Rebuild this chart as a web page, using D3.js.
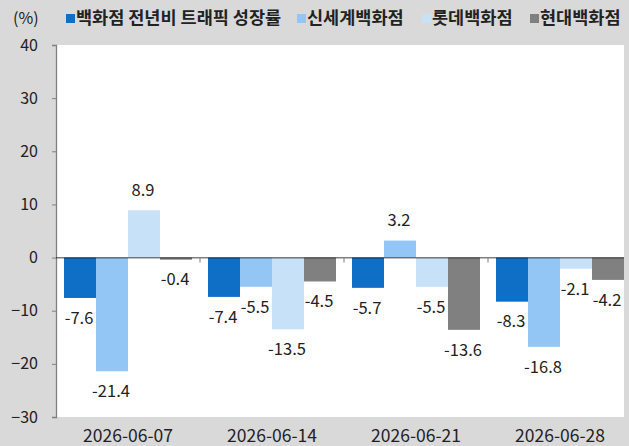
<!DOCTYPE html>
<html>
<head>
<meta charset="utf-8">
<script src="https://cdn.jsdelivr.net/npm/d3@7"></script>
<style>
  body { margin: 0; background: #d9d9d9; }
  text { font-family: "Noto Sans CJK KR", "Noto Sans", sans-serif; fill: #222; }
</style>
</head>
<body>
<div id="chart"></div>
<script>
// data
const dates = ["2026-06-07", "2026-06-14", "2026-06-21", "2026-06-28"];
const seriesNames = ["백화점 전년비 트래픽 성장률", "신세계백화점", "롯데백화점", "현대백화점"];
const totalGrowth = [-7.6, -7.4, -5.7, -8.3];
const shinsegae = [-21.4, -5.5, 3.2, -16.8];
const lotte = [8.9, -13.5, -5.5, -2.1];
const hyundai = [-0.4, -4.5, -13.6, -4.2];
const yTicks = [-30, -20, -10, 0, 10, 20, 30, 40];

const colors = ["#0f6fc6", "#93c6f4", "#c7e1f9", "#808080"];
const allSeries = [totalGrowth, shinsegae, lotte, hyundai];

const W = 629, H = 446;
const svg = d3.select("#chart").append("svg")
    .attr("width", W)
    .attr("height", H);

svg.append("rect").attr("width", W).attr("height", H).attr("fill", "#d9d9d9");

// plot area
const m = { left: 56, right: 624, top: 45, bottom: 417 };

svg.append("defs").append("clipPath").attr("id", "plotClip")
    .append("rect").attr("x", m.left).attr("y", 0).attr("width", m.right - m.left).attr("height", H);

svg.append("rect")
    .attr("x", m.left).attr("y", m.top)
    .attr("width", m.right - m.left).attr("height", m.bottom - m.top)
    .attr("fill", "#fff");

const x = d3.scaleBand().domain(dates).range([m.left, m.left + 144 * dates.length]);
const xInner = d3.scaleBand().domain(d3.range(seriesNames.length)).range([8, 136]);
const y = d3.scaleLinear().domain([-30, 40]).range([m.bottom, m.top]);

// bars
const rows = [];
dates.forEach((d, i) => {
    allSeries.forEach((s, j) => rows.push({date: d, k: j, v: s[i]}));
});

const plot = svg.append("g").attr("clip-path", "url(#plotClip)");

plot.selectAll("rect.bar")
    .data(rows)
    .enter()
    .append("rect")
    .attr("class", "bar")
    .attr("x", d => x(d.date) + xInner(d.k))
    .attr("width", xInner.bandwidth())
    .attr("y", d => y(Math.max(0, d.v)))
    .attr("height", d => Math.abs(y(d.v) - y(0)))
    .attr("fill", d => colors[d.k]);

// value labels
svg.selectAll("text.val")
    .data(rows)
    .enter()
    .append("text")
    .attr("class", "val")
    .attr("x", d => x(d.date) + xInner(d.k) + xInner.bandwidth() / 2 - 1)
    .attr("y", d => y(d.v) + (d.v >= 0 ? -20 : 20))
    .attr("dy", "0.35em")
    .attr("text-anchor", "middle")
    .style("font-size", "16.5px")
    .text(d => d.v.toFixed(1));

// y axis
const yAxis = d3.axisLeft(y).tickValues(yTicks).tickSize(4).tickPadding(14);
const yg = svg.append("g")
    .attr("transform", `translate(${m.left},0)`)
    .call(yAxis);
yg.select(".domain").attr("stroke", "#808080").attr("stroke-width", 1.3);
yg.selectAll(".tick line").attr("stroke", "#808080");
yg.selectAll(".tick text").style("font-size", "16px").style("font-family", "'Noto Sans CJK KR', 'Noto Sans', sans-serif").attr("fill", "#222");

// zero line with category ticks
const xg = svg.append("g")
    .attr("transform", `translate(0,${y(0)})`)
    .attr("clip-path", "url(#plotClip)");
xg.append("line")
    .attr("x1", m.left).attr("x2", m.right)
    .attr("stroke", "#000").attr("stroke-width", 1.3);
xg.selectAll("line.sep")
    .data(dates.slice(1))
    .enter()
    .append("line")
    .attr("class", "sep")
    .attr("x1", d => x(d)).attr("x2", d => x(d))
    .attr("y1", 0).attr("y2", 5)
    .attr("stroke", "#808080");

// category labels
svg.selectAll("text.cat")
    .data(dates)
    .enter()
    .append("text")
    .attr("class", "cat")
    .attr("x", d => x(d) + x.bandwidth() / 2)
    .attr("y", 436)
    .attr("dy", "0.35em")
    .attr("text-anchor", "middle")
    .style("font-size", "17.5px")
    .text(d => d);

// unit
svg.append("text")
    .attr("x", 13).attr("y", 18).attr("dy", "0.35em")
    .style("font-size", "16px")
    .text("(%)");

// legend
const legendX = [66, 297, 422, 530];
const legend = svg.selectAll("g.legend")
    .data(seriesNames)
    .enter()
    .append("g")
    .attr("class", "legend")
    .attr("transform", (d, i) => `translate(${legendX[i]},0)`);
legend.append("rect")
    .attr("x", 0).attr("y", 14)
    .attr("width", 9).attr("height", 9)
    .attr("fill", (d, i) => colors[i]);
legend.append("text")
    .attr("x", 10).attr("y", 18).attr("dy", "0.35em")
    .style("font-size", "17.5px")
    .style("font-weight", "bold")
    .text(d => d);
</script>
</body>
</html>
